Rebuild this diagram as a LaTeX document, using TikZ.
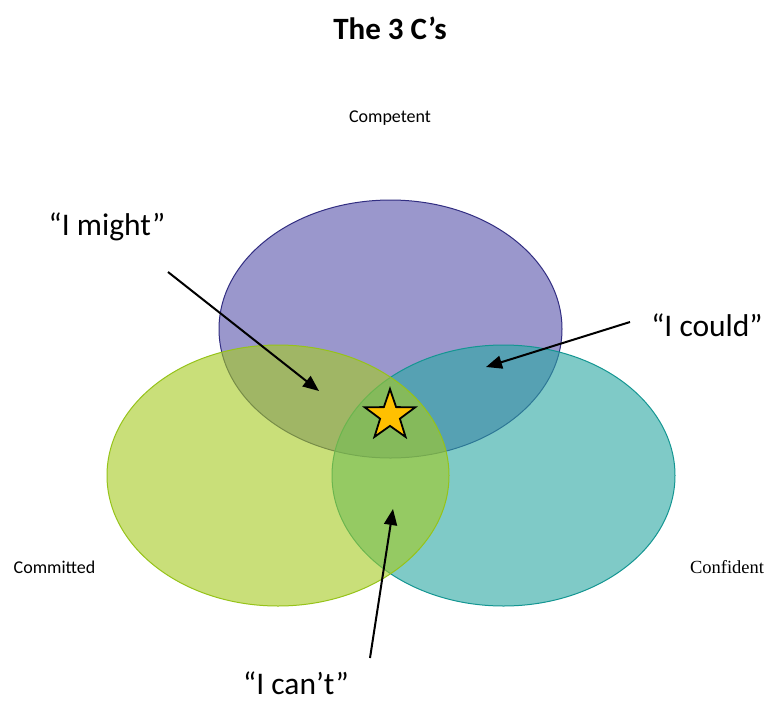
\documentclass[tikz,border=0pt]{standalone}
\usepackage{fontspec}
\setmainfont{Carlito}
\newfontfamily\timesfont{Liberation Serif}
\usetikzlibrary{shapes.geometric,arrows.meta}

\definecolor{compfill}{RGB}{88,82,170}
\definecolor{compline}{RGB}{50,46,130}
\definecolor{commfill}{RGB}{165,203,33}
\definecolor{commline}{RGB}{150,195,25}
\definecolor{conffill}{RGB}{42,168,163}
\definecolor{confline}{RGB}{20,150,146}
\definecolor{stargold}{RGB}{255,192,0}

\tikzset{
  circlezone/.style={line width=1pt, fill opacity=0.6, draw opacity=1},
  bigquote/.style={font=\fontsize{31.5}{36}\selectfont, inner sep=0pt},
  caption/.style={font=\fontsize{18}{22}\selectfont, inner sep=0pt},
  pointer/.style={line width=2pt, -{Triangle[length=16pt,width=13pt]}}
}

\begin{document}
\begin{tikzpicture}[x=1pt,y=-1pt]
  \useasboundingbox[fill=white] (0,0) rectangle (766,702);

  % title
  \node[font=\bfseries\fontsize{31}{36}\selectfont, inner sep=0pt] (title) at (390,28) {The 3 C’s};

  % the three overlapping circles of the model
  \draw[circlezone, draw=compline, fill=compfill] (390.5,329) ellipse [x radius=171.5, y radius=129];
  \draw[circlezone, draw=confline, fill=conffill] (503.5,475.5) ellipse [x radius=171.5, y radius=130.5];
  \draw[circlezone, draw=commline, fill=commfill] (278,475.5) ellipse [x radius=171, y radius=130.5];

  % circle captions
  \node[caption] (competent) at (390,118) {Competent};
  \node[caption] (committed) at (54.5,567) {Committed};
  \node[caption, font=\timesfont\fontsize{18.5}{22}\selectfont] (confident) at (727,567) {Confident};

  % the centre where all three meet
  \node[star, star points=5, star point ratio=2.55, minimum size=53pt, inner sep=0pt,
        draw=black, line width=1.8pt, fill=stargold] (centre) at (390,415.5) {};

  % quotes with their pointers
  \node[bigquote] (might) at (107,227) {“I might”};
  \node[bigquote] (could) at (707,325) {“I could”};
  \node[bigquote] (cant) at (296,683) {“I can’t”};

  \coordinate (mightstart) at (168,272);
  \coordinate (mightend) at (319,391);
  \coordinate (couldstart) at (630,322);
  \coordinate (couldend) at (486,367);
  \coordinate (cantstart) at (370,658);
  \coordinate (cantend) at (393,509);

  \draw[pointer] (mightstart) -- (mightend);
  \draw[pointer] (couldstart) -- (couldend);
  \draw[pointer] (cantstart) -- (cantend);
\end{tikzpicture}
\end{document}
